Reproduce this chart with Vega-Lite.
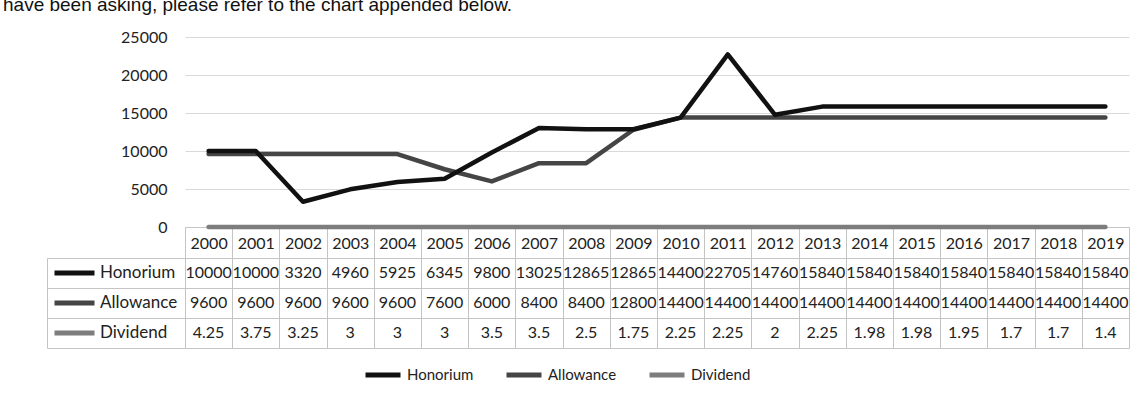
{
  "$schema": "https://vega.github.io/schema/vega-lite/v6.json",
  "background": "white",
  "padding": {"left": 3, "top": -4, "right": 0, "bottom": 0},
  "title": {"text": "have been asking, please refer to the chart appended below.", "anchor": "start", "frame": "group", "dx": -182, "font": "Liberation Sans", "fontSize": 19, "fontWeight": "normal", "color": "#111", "offset": 14},
  "datasets": {
    "rows": [
      {"year": 2000, "series": "Dividend", "value": 4.25},
      {"year": 2001, "series": "Dividend", "value": 3.75},
      {"year": 2002, "series": "Dividend", "value": 3.25},
      {"year": 2003, "series": "Dividend", "value": 3},
      {"year": 2004, "series": "Dividend", "value": 3},
      {"year": 2005, "series": "Dividend", "value": 3},
      {"year": 2006, "series": "Dividend", "value": 3.5},
      {"year": 2007, "series": "Dividend", "value": 3.5},
      {"year": 2008, "series": "Dividend", "value": 2.5},
      {"year": 2009, "series": "Dividend", "value": 1.75},
      {"year": 2010, "series": "Dividend", "value": 2.25},
      {"year": 2011, "series": "Dividend", "value": 2.25},
      {"year": 2012, "series": "Dividend", "value": 2},
      {"year": 2013, "series": "Dividend", "value": 2.25},
      {"year": 2014, "series": "Dividend", "value": 1.98},
      {"year": 2015, "series": "Dividend", "value": 1.98},
      {"year": 2016, "series": "Dividend", "value": 1.95},
      {"year": 2017, "series": "Dividend", "value": 1.7},
      {"year": 2018, "series": "Dividend", "value": 1.7},
      {"year": 2019, "series": "Dividend", "value": 1.4},
      {"year": 2000, "series": "Allowance", "value": 9600},
      {"year": 2001, "series": "Allowance", "value": 9600},
      {"year": 2002, "series": "Allowance", "value": 9600},
      {"year": 2003, "series": "Allowance", "value": 9600},
      {"year": 2004, "series": "Allowance", "value": 9600},
      {"year": 2005, "series": "Allowance", "value": 7600},
      {"year": 2006, "series": "Allowance", "value": 6000},
      {"year": 2007, "series": "Allowance", "value": 8400},
      {"year": 2008, "series": "Allowance", "value": 8400},
      {"year": 2009, "series": "Allowance", "value": 12800},
      {"year": 2010, "series": "Allowance", "value": 14400},
      {"year": 2011, "series": "Allowance", "value": 14400},
      {"year": 2012, "series": "Allowance", "value": 14400},
      {"year": 2013, "series": "Allowance", "value": 14400},
      {"year": 2014, "series": "Allowance", "value": 14400},
      {"year": 2015, "series": "Allowance", "value": 14400},
      {"year": 2016, "series": "Allowance", "value": 14400},
      {"year": 2017, "series": "Allowance", "value": 14400},
      {"year": 2018, "series": "Allowance", "value": 14400},
      {"year": 2019, "series": "Allowance", "value": 14400},
      {"year": 2000, "series": "Honorium", "value": 10000},
      {"year": 2001, "series": "Honorium", "value": 10000},
      {"year": 2002, "series": "Honorium", "value": 3320},
      {"year": 2003, "series": "Honorium", "value": 4960},
      {"year": 2004, "series": "Honorium", "value": 5925},
      {"year": 2005, "series": "Honorium", "value": 6345},
      {"year": 2006, "series": "Honorium", "value": 9800},
      {"year": 2007, "series": "Honorium", "value": 13025},
      {"year": 2008, "series": "Honorium", "value": 12865},
      {"year": 2009, "series": "Honorium", "value": 12865},
      {"year": 2010, "series": "Honorium", "value": 14400},
      {"year": 2011, "series": "Honorium", "value": 22705},
      {"year": 2012, "series": "Honorium", "value": 14760},
      {"year": 2013, "series": "Honorium", "value": 15840},
      {"year": 2014, "series": "Honorium", "value": 15840},
      {"year": 2015, "series": "Honorium", "value": 15840},
      {"year": 2016, "series": "Honorium", "value": 15840},
      {"year": 2017, "series": "Honorium", "value": 15840},
      {"year": 2018, "series": "Honorium", "value": 15840},
      {"year": 2019, "series": "Honorium", "value": 15840}
    ]
  },
  "data": {"name": "rows"},
  "bounds": "flush",
  "spacing": 31,
  "resolve": {"scale": {"color": "independent"}, "legend": {"color": "independent"}},
  "vconcat": [
    {
      "width": 944,
      "height": 190,
      "mark": {"type": "line", "strokeWidth": 4.5, "strokeCap": "round", "strokeJoin": "round"},
      "encoding": {
        "x": {"field": "year", "type": "ordinal", "scale": {"type": "band", "paddingInner": 0, "paddingOuter": 0},
          "axis": {"title": null, "labelAngle": 0, "labelFont": "Lato", "labelFontSize": 16, "labelColor": "#222", "labelBaseline": "middle", "labelPadding": -15, "tickSize": 31, "tickBand": "extent", "tickColor": "#c4c4c4", "domainColor": "#c4c4c4", "grid": false}},
        "y": {"field": "value", "type": "quantitative", "scale": {"domain": [0, 25000]},
          "axis": {"title": null, "format": "d", "values": [0, 5000, 10000, 15000, 20000, 25000], "domain": false, "ticks": false, "labelPadding": 18, "labelFont": "Lato", "labelFontSize": 16, "labelColor": "#222", "gridColor": "#d9d9d9", "gridWidth": 1}},
        "color": {"field": "series", "type": "nominal",
          "scale": {"domain": ["Honorium", "Allowance", "Dividend"], "range": ["#111111", "#454545", "#7d7d7d"]},
          "legend": {"orient": "none", "legendX": 178, "legendY": 318, "direction": "horizontal", "title": null, "symbolType": "stroke", "symbolSize": 1225, "symbolStrokeWidth": 5, "labelFont": "Lato", "labelFontSize": 15, "labelColor": "#222", "labelOffset": 4, "columnPadding": 22}}
      }
    },
    {
      "width": 944,
      "height": 90,
      "encoding": {
        "x": {"field": "year", "type": "ordinal", "scale": {"type": "band", "paddingInner": 0, "paddingOuter": 0},
          "axis": {"title": null, "labels": false, "ticks": false, "domain": false, "grid": true, "tickBand": "extent", "gridColor": "#c4c4c4"}},
        "y": {"field": "series", "type": "nominal", "scale": {"type": "band", "domain": ["Honorium", "Allowance", "Dividend"], "paddingInner": 0, "paddingOuter": 0},
          "axis": {"title": null, "labels": false, "domain": true, "domainColor": "#c4c4c4", "ticks": true, "tickSize": -138, "tickColor": "#c4c4c4", "offset": 138, "grid": true, "gridColor": "#c4c4c4", "tickBand": "extent"}}
      },
      "layer": [
        {"mark": {"type": "text", "font": "Lato", "fontSize": 16, "color": "#222", "align": "center", "baseline": "middle"},
          "encoding": {"text": {"field": "value", "type": "nominal"}}},
        {"mark": {"type": "point", "opacity": 0},
          "encoding": {"color": {"field": "series", "type": "nominal",
            "scale": {"domain": ["Honorium", "Allowance", "Dividend"], "range": ["#111111", "#454545", "#7d7d7d"]},
            "legend": {"orient": "none", "legendX": -133, "legendY": 0, "direction": "vertical", "title": null, "symbolType": "stroke", "symbolSize": 1600, "symbolStrokeWidth": 5, "symbolOpacity": 1, "clipHeight": 30, "rowPadding": 0, "labelFont": "Lato", "labelFontSize": 17, "labelColor": "#222", "labelOffset": 3,
              "encode": {"symbols": {"update": {"opacity": {"value": 1}, "strokeCap": {"value": "round"}}}}}}}}
      ]
    }
  ],
  "config": {"view": {"stroke": null}, "font": "Lato"}
}
